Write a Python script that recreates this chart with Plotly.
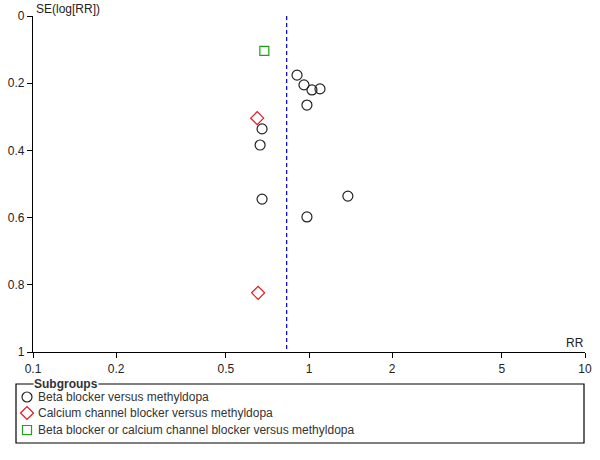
import plotly.graph_objects as go

# Funnel plot
beta_rr = [0.905, 0.959, 1.025, 1.096, 0.983, 0.676, 0.665, 0.676, 1.383, 0.983]
beta_se = [0.176, 0.205, 0.220, 0.217, 0.265, 0.336, 0.384, 0.545, 0.536, 0.598]
ccb_rr = [0.649, 0.654]
ccb_se = [0.304, 0.824]
both_rr = [0.689]
both_se = [0.104]
pooled_rr = 0.83

x_ticks = [0.1, 0.2, 0.5, 1, 2, 5, 10]
y_ticks = [0, 0.2, 0.4, 0.6, 0.8, 1]
groups = ["Beta blocker versus methyldopa",
          "Calcium channel blocker versus methyldopa",
          "Beta blocker or calcium channel blocker versus methyldopa"]

font = "Liberation Sans, Arial, sans-serif"
txt = "#222222"

styles = [dict(symbol="circle-open", size=10, color="#222222"),
          dict(symbol="diamond-open", size=10, color="#e8141c"),
          dict(symbol="square-open", size=9, color="#1aa31a")]

fig = go.Figure()
for rr, se, st, name in zip([beta_rr, ccb_rr, both_rr], [beta_se, ccb_se, both_se],
                            styles, groups):
    fig.add_trace(go.Scatter(x=rr, y=se, mode="markers", name=name,
                             marker=dict(line=dict(width=1.2), **st),
                             xaxis="x", yaxis="y"))

fig.add_shape(type="line", xref="x", yref="y", x0=pooled_rr, x1=pooled_rr,
              y0=0, y1=1, line=dict(color="#0000c8", width=1.2, dash="4px,3px"))

# legend box drawn on a second pair of axes (units = pixels of the page)
fig.add_shape(type="rect", xref="x2", yref="y2", x0=16, x1=584, y0=384, y1=443,
              line=dict(color="black", width=1.2))
fig.add_annotation(text="<b>Subgroups</b>", xref="x2", yref="y2",
                   x=33, y=384, xanchor="left", yanchor="middle",
                   showarrow=False, bgcolor="white", borderpad=0,
                   font=dict(family=font, size=12, color="#333333"))

leg_y = [397, 413, 430]
for i, (st, name) in enumerate(zip(styles, groups)):
    fig.add_trace(go.Scatter(x=[27], y=[leg_y[i]], mode="markers",
                             marker=dict(line=dict(width=1.2), **st),
                             xaxis="x2", yaxis="y2", cliponaxis=False,
                             showlegend=False, hoverinfo="skip"))
    fig.add_annotation(text=name, xref="x2", yref="y2", x=36, y=leg_y[i],
                       xanchor="left", yanchor="middle", showarrow=False,
                       font=dict(family=font, size=12, color="#333333"))

fig.add_annotation(text="SE(log[RR])", xref="x2", yref="y2",
                   x=34, y=9, xanchor="left", yanchor="middle",
                   showarrow=False, font=dict(family=font, size=12, color=txt))
fig.add_annotation(text="RR", xref="x2", yref="y2",
                   x=586, y=343, xanchor="right", yanchor="middle",
                   showarrow=False, font=dict(family=font, size=12, color=txt))

axis_style = dict(showgrid=False, zeroline=False, showline=True,
                  linecolor="black", linewidth=1.3, ticks="outside",
                  ticklen=5, tickcolor="black", automargin=False,
                  tickfont=dict(family=font, size=12, color=txt))

W, H = 600, 460
fig.update_layout(
    width=W, height=H,
    margin=dict(l=0, r=0, t=0, b=0),
    plot_bgcolor="rgba(0,0,0,0)", paper_bgcolor="white",
    showlegend=False,
    xaxis=dict(type="log", range=[-1, 1], tickvals=x_ticks,
               ticktext=[str(v) for v in x_ticks],
               domain=[33 / W, 585 / W], anchor="y", **axis_style),
    yaxis=dict(range=[1, 0], tickvals=y_ticks,
               ticktext=["0", "0.2", "0.4", "0.6", "0.8", "1"],
               domain=[(H - 352) / H, (H - 16) / H], anchor="x", **axis_style),
    xaxis2=dict(range=[0, W], domain=[0, 1], visible=False, anchor="y2"),
    yaxis2=dict(range=[H, 0], domain=[0, 1], visible=False, anchor="x2"),
)

# drop the browser's default body margin so the figure sits at the page corner
fig.write_html("out.html", config={"displayModeBar": False},
               post_script="document.body.style.margin='0';")
